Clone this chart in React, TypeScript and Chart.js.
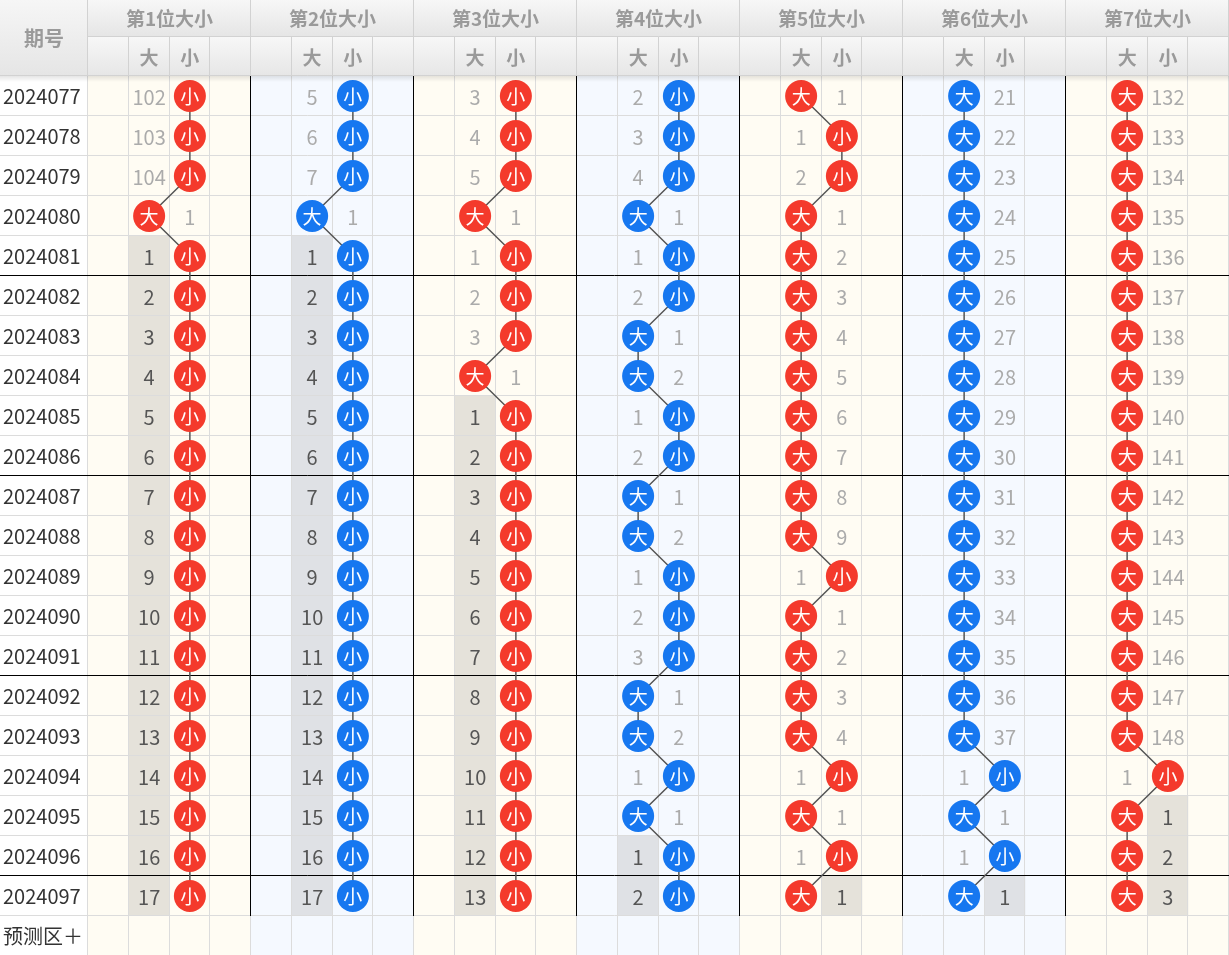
import React, { useEffect, useRef } from 'react';
import { Chart, registerables } from 'chart.js';

Chart.register(...registerables);

// ---------------- data ----------------
const periods = [
  '2024077', '2024078', '2024079', '2024080', '2024081', '2024082', '2024083',
  '2024084', '2024085', '2024086', '2024087', '2024088', '2024089', '2024090',
  '2024091', '2024092', '2024093', '2024094', '2024095', '2024096', '2024097',
];
const forecastLabel = '预测区＋';
const headerLabel = '期号';
const groupTitles = ['第1位大小', '第2位大小', '第3位大小', '第4位大小', '第5位大小', '第6位大小', '第7位大小'];
const subLabels = ['', '大', '小', ''];

const pos1Result = ['小', '小', '小', '大', '小', '小', '小', '小', '小', '小', '小', '小', '小', '小', '小', '小', '小', '小', '小', '小', '小'];
const pos1Miss = [102, 103, 104, 1, 1, 2, 3, 4, 5, 6, 7, 8, 9, 10, 11, 12, 13, 14, 15, 16, 17];

const pos2Result = ['小', '小', '小', '大', '小', '小', '小', '小', '小', '小', '小', '小', '小', '小', '小', '小', '小', '小', '小', '小', '小'];
const pos2Miss = [5, 6, 7, 1, 1, 2, 3, 4, 5, 6, 7, 8, 9, 10, 11, 12, 13, 14, 15, 16, 17];

const pos3Result = ['小', '小', '小', '大', '小', '小', '小', '大', '小', '小', '小', '小', '小', '小', '小', '小', '小', '小', '小', '小', '小'];
const pos3Miss = [3, 4, 5, 1, 1, 2, 3, 1, 1, 2, 3, 4, 5, 6, 7, 8, 9, 10, 11, 12, 13];

const pos4Result = ['小', '小', '小', '大', '小', '小', '大', '大', '小', '小', '大', '大', '小', '小', '小', '大', '大', '小', '大', '小', '小'];
const pos4Miss = [2, 3, 4, 1, 1, 2, 1, 2, 1, 2, 1, 2, 1, 2, 3, 1, 2, 1, 1, 1, 2];

const pos5Result = ['大', '小', '小', '大', '大', '大', '大', '大', '大', '大', '大', '大', '小', '大', '大', '大', '大', '小', '大', '小', '大'];
const pos5Miss = [1, 1, 2, 1, 2, 3, 4, 5, 6, 7, 8, 9, 1, 1, 2, 3, 4, 1, 1, 1, 1];

const pos6Result = ['大', '大', '大', '大', '大', '大', '大', '大', '大', '大', '大', '大', '大', '大', '大', '大', '大', '小', '大', '小', '大'];
const pos6Miss = [21, 22, 23, 24, 25, 26, 27, 28, 29, 30, 31, 32, 33, 34, 35, 36, 37, 1, 1, 1, 1];

const pos7Result = ['大', '大', '大', '大', '大', '大', '大', '大', '大', '大', '大', '大', '大', '大', '大', '大', '大', '小', '大', '大', '大'];
const pos7Miss = [132, 133, 134, 135, 136, 137, 138, 139, 140, 141, 142, 143, 144, 145, 146, 147, 148, 1, 1, 2, 3];

const results = [pos1Result, pos2Result, pos3Result, pos4Result, pos5Result, pos6Result, pos7Result];
const misses = [pos1Miss, pos2Miss, pos3Miss, pos4Miss, pos5Miss, pos6Miss, pos7Miss];
const rowLabels = [...periods, forecastLabel];

// ---------------- styles ----------------
const FONT = '"Microsoft YaHei", "Noto Sans CJK SC", sans-serif';
const groupBg = ['#fffcf3', '#f5f9ff'];
const shadeBg = ['#e5e2da', '#dfe1e5'];
const ballColor = ['#f43a2c', '#1677f0'];
const SUB = 4;
const HEADER_ROW1 = 37;

const colOf = (g: number, v: string) => g * SUB + (v === '大' ? 1 : 2) + 0.5;

const trendPlugin = {
  id: 'trendTable',
  beforeDraw(chart: any) {
    const { ctx, chartArea: ca, scales } = chart;
    const x = scales.x;
    const y = scales.y;
    const top = y.getPixelForValue(-0.5);
    const bottom = y.getPixelForValue(rowLabels.length - 0.5);
    ctx.save();
    ctx.fillStyle = '#ffffff';
    ctx.fillRect(0, top, ca.left, bottom - top);
    results.forEach((res, g) => {
      const x0 = x.getPixelForValue(g * SUB);
      const x1 = x.getPixelForValue(g * SUB + SUB);
      ctx.fillStyle = groupBg[g % 2];
      ctx.fillRect(x0, top, x1 - x0, bottom - top);
      ['大', '小'].forEach((v, k) => {
        const last = res.lastIndexOf(v);
        for (let i = last + 1; i < res.length; i++) {
          const cx0 = x.getPixelForValue(g * SUB + 1 + k);
          const cx1 = x.getPixelForValue(g * SUB + 2 + k);
          const ry0 = y.getPixelForValue(i - 0.5);
          const ry1 = y.getPixelForValue(i + 0.5);
          ctx.fillStyle = shadeBg[g % 2];
          ctx.fillRect(cx0, ry0, cx1 - cx0, ry1 - ry0);
        }
      });
    });
    // light grid
    ctx.strokeStyle = '#dcdcdc';
    ctx.lineWidth = 1;
    ctx.beginPath();
    for (let c = 0; c <= results.length * SUB; c++) {
      const px = Math.round(x.getPixelForValue(c)) - 0.5;
      ctx.moveTo(px, top);
      ctx.lineTo(px, bottom);
    }
    for (let r = 1; r <= rowLabels.length; r++) {
      const py = Math.round(y.getPixelForValue(r - 0.5)) - 0.5;
      ctx.moveTo(0, py);
      ctx.lineTo(ca.right, py);
    }
    ctx.stroke();
    // black separators
    ctx.strokeStyle = '#000000';
    ctx.beginPath();
    for (let r = 5; r < periods.length; r += 5) {
      const py = Math.round(y.getPixelForValue(r - 0.5)) - 0.5;
      ctx.moveTo(0, py);
      ctx.lineTo(ca.right, py);
    }
    const dataBottom = y.getPixelForValue(periods.length - 0.5);
    for (let g = 1; g < results.length; g++) {
      const px = Math.round(x.getPixelForValue(g * SUB)) - 0.5;
      ctx.moveTo(px, top);
      ctx.lineTo(px, dataBottom);
    }
    ctx.stroke();
    ctx.restore();
  },
  beforeDatasetsDraw(chart: any) {
    const { ctx, scales } = chart;
    const x = scales.x;
    const y = scales.y;
    ctx.save();
    ctx.font = `20px ${FONT}`;
    ctx.textAlign = 'center';
    ctx.textBaseline = 'middle';
    results.forEach((res, g) => {
      res.forEach((v, i) => {
        const other = v === '大' ? '小' : '大';
        const shaded = i > res.lastIndexOf(other);
        ctx.fillStyle = shaded ? '#555555' : '#ababab';
        ctx.fillText(String(misses[g][i]), x.getPixelForValue(colOf(g, other)), y.getPixelForValue(i) + 1);
      });
    });
    ctx.restore();
  },
  afterDatasetsDraw(chart: any) {
    const { ctx } = chart;
    ctx.save();
    ctx.font = `19px ${FONT}`;
    ctx.textAlign = 'center';
    ctx.textBaseline = 'middle';
    ctx.fillStyle = '#ffffff';
    results.forEach((res, g) => {
      const meta = chart.getDatasetMeta(g);
      meta.data.forEach((pt: any, i: number) => {
        ctx.fillText(res[i], pt.x, pt.y + 1);
      });
    });
    ctx.restore();
  },
  afterDraw(chart: any) {
    const { ctx, chartArea: ca, scales } = chart;
    const x = scales.x;
    const W = chart.width;
    const h1 = HEADER_ROW1;
    const h2 = ca.top;
    ctx.save();
    // shadow below header
    const sg = ctx.createLinearGradient(0, h2, 0, h2 + 6);
    sg.addColorStop(0, 'rgba(0,0,0,0.10)');
    sg.addColorStop(1, 'rgba(0,0,0,0)');
    ctx.fillStyle = sg;
    ctx.fillRect(0, h2, W, 6);
    // backgrounds
    const g1 = ctx.createLinearGradient(0, 0, 0, h1);
    g1.addColorStop(0, '#f7f7f7');
    g1.addColorStop(1, '#e5e5e5');
    ctx.fillStyle = g1;
    ctx.fillRect(ca.left, 0, W - ca.left, h1);
    const g2 = ctx.createLinearGradient(0, h1, 0, h2);
    g2.addColorStop(0, '#f7f7f7');
    g2.addColorStop(1, '#e6e6e6');
    ctx.fillStyle = g2;
    ctx.fillRect(ca.left, h1, W - ca.left, h2 - h1);
    const g0 = ctx.createLinearGradient(0, 0, 0, h2);
    g0.addColorStop(0, '#f6f6f6');
    g0.addColorStop(1, '#e5e5e5');
    ctx.fillStyle = g0;
    ctx.fillRect(0, 0, ca.left, h2);
    // lines
    ctx.lineWidth = 1;
    ctx.strokeStyle = '#d2d2d2';
    ctx.beginPath();
    ctx.moveTo(ca.left, h1 - 0.5);
    ctx.lineTo(W, h1 - 0.5);
    ctx.moveTo(0, h2 - 0.5);
    ctx.lineTo(W, h2 - 0.5);
    for (let c = 0; c <= results.length * SUB; c++) {
      const px = Math.round(x.getPixelForValue(c)) - 0.5;
      ctx.moveTo(px, c % SUB === 0 ? 0 : h1);
      ctx.lineTo(px, h2);
    }
    ctx.stroke();
    // text
    ctx.fillStyle = '#9a9a9a';
    ctx.textAlign = 'center';
    ctx.textBaseline = 'middle';
    ctx.font = `bold 20px ${FONT}`;
    ctx.fillText(headerLabel, ca.left / 2, h2 / 2);
    ctx.font = `bold 19px ${FONT}`;
    groupTitles.forEach((t, g) => {
      ctx.fillText(t, x.getPixelForValue(g * SUB + SUB / 2), h1 / 2);
      subLabels.forEach((s, k) => {
        if (s) ctx.fillText(s, x.getPixelForValue(g * SUB + k + 0.5), (h1 + h2) / 2 + 1);
      });
    });
    ctx.restore();
  },
};

export default function App() {
  const ref = useRef<HTMLCanvasElement>(null);
  useEffect(() => {
    const canvas = ref.current;
    if (!canvas) return;
    const chart = new Chart(canvas, {
      type: 'scatter',
      data: {
        datasets: results.map((res, g) => ({
          label: groupTitles[g],
          data: res.map((v, i) => ({ x: colOf(g, v), y: i })),
          showLine: true,
          borderColor: '#555555',
          borderWidth: 1.5,
          tension: 0,
          pointRadius: 16,
          pointHoverRadius: 16,
          pointBackgroundColor: ballColor[g % 2],
          pointBorderColor: ballColor[g % 2],
          pointBorderWidth: 0,
        })),
      },
      options: {
        responsive: false,
        animation: false,
        events: [],
        devicePixelRatio: 1,
        layout: { autoPadding: false, padding: { top: 76, left: 3, right: 0, bottom: 0 } },
        plugins: { legend: { display: false }, tooltip: { enabled: false } },
        scales: {
          x: { type: 'linear', min: 0, max: results.length * SUB, display: false },
          y: {
            type: 'linear',
            reverse: true,
            min: -0.5,
            max: rowLabels.length - 0.5,
            grid: { display: false },
            border: { display: false },
            afterBuildTicks: (s: any) => {
              s.ticks = rowLabels.map((_, i) => ({ value: i }));
            },
            afterFit: (s: any) => {
              s.width = 85;
              s.paddingTop = 0;
              s.paddingBottom = 0;
            },
            ticks: {
              autoSkip: false,
              crossAlign: 'far',
              padding: 0,
              color: '#333333',
              font: { family: FONT, size: 20 },
              callback: (_v: any, i: number) => rowLabels[i] ?? '',
            },
          },
        },
      },
      plugins: [trendPlugin],
    } as any);
    return () => chart.destroy();
  }, []);
  return (
    <div style={{ position: 'fixed', left: 0, top: 0, width: 1229, height: 955, overflow: 'hidden', background: '#ffffff' }}>
      <canvas ref={ref} width={1229} height={956} style={{ display: 'block' }} />
    </div>
  );
}
